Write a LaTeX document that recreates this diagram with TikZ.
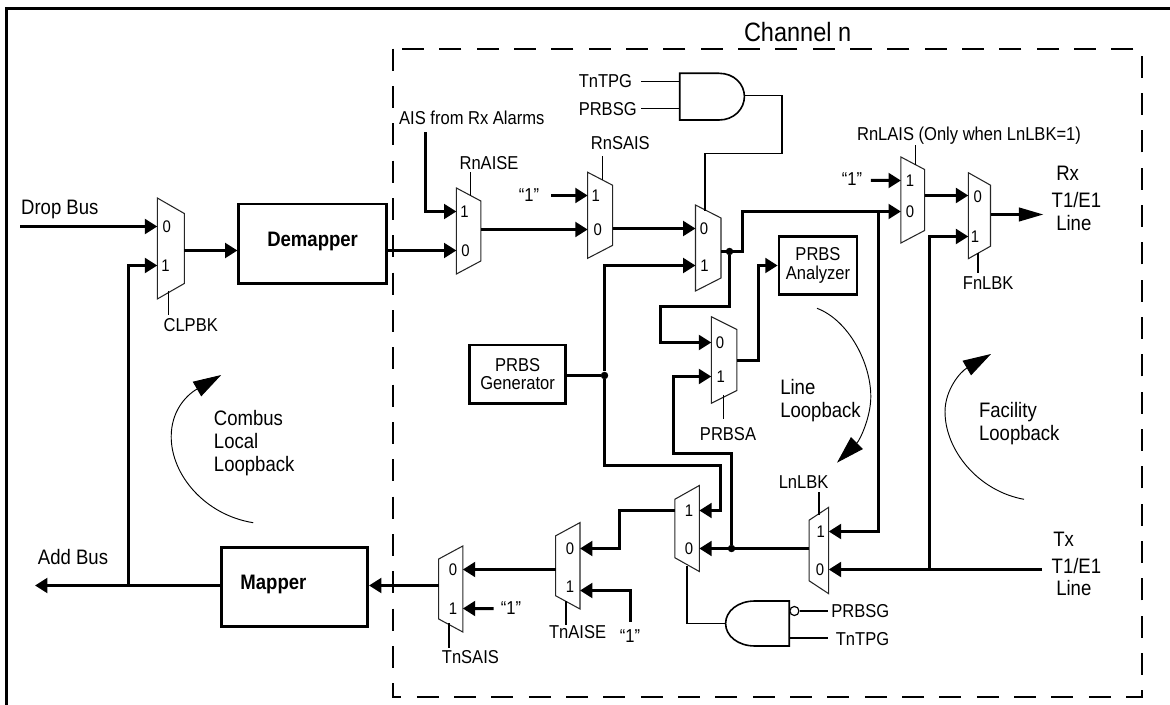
\documentclass[tikz,border=0pt]{standalone}
\usepackage{fontspec}
\setmainfont{Liberation Sans}[FakeStretch=0.886]
\usetikzlibrary{arrows.meta,positioning,calc}
\definecolor{ink}{RGB}{0,0,0}
\tikzset{
  box/.style={draw=ink,line width=2.1pt,inner sep=0pt,align=center},
  lbl/.style={inner sep=0pt,font=\fontsize{14}{13.8}\selectfont,text=ink,align=center},
  big/.style={inner sep=0pt,font=\fontsize{15.7}{17.3}\selectfont,text=ink,align=left},
  heavy/.style={font=\fontsize{15.7}{17}\selectfont\bfseries},
  digit/.style={inner sep=0pt,font=\fontsize{12.6}{13}\selectfont,text=ink},
  wire/.style={line width=2.25pt,draw=ink},
  arr/.style={wire,-{Triangle[length=9.3pt,width=11pt]}},
  thin wire/.style={line width=1.2pt,draw=ink},
  tick/.style={line width=1.1pt,draw=ink},
  swing/.style={line width=.7pt,draw=ink,-{Triangle[length=21pt,width=12.5pt]}},
  dot/.style={circle,fill=ink,inner sep=0pt,minimum size=5.6pt},
}
\newcommand{\muxgate}[6]{%
  \draw[line width=.8pt,draw=ink!85] (#2,{#4-#5}) -- (#3,{#4-#6}) -- (#3,{#4+#6}) -- (#2,{#4+#5}) -- cycle;
  \coordinate (#1i) at (#2,#4);
  \coordinate (#1o) at (#3,#4);
}

\begin{document}
\begin{tikzpicture}[x=.75pt,y=-.75pt]
  \path[use as bounding box] (0,0) rectangle (1170,705);
  \draw[line width=2.2pt,draw=ink] (6.8,705) -- (6.8,8.3) -- (1170,8.3);
  \draw[line width=1.3pt,draw=ink,dash pattern=on 16.5pt off 11.5pt] (392.8,48.7) rectangle (1141.7,696.7);
  \node[inner sep=0pt,font=\fontsize{19.9}{22}\selectfont] (chan) at (797.6,32) {Channel n};

  \muxgate{mClp}{157.3}{184.3}{248.5}{50.5}{35}
  \muxgate{mAise}{456.4}{480.8}{231}{43}{30}
  \muxgate{mSais}{587.7}{612.7}{215.3}{43}{30}
  \muxgate{mTest}{695.5}{721}{248}{43}{30}
  \muxgate{mLais}{900.9}{924.6}{200}{43}{30.5}
  \muxgate{mFlb}{968.3}{990.5}{215.7}{43}{30.5}
  \muxgate{mAna}{711.3}{736.9}{360}{43.3}{30.5}
  \muxgate{mLlb}{828.7}{809.1}{550.5}{43.2}{30.3}
  \muxgate{mIns}{699.3}{674.8}{528.5}{43}{29.2}
  \muxgate{mTais}{580}{555.7}{565.8}{43.2}{30}
  \muxgate{mTsais}{462.8}{438.7}{589}{43}{30}

  \node[digit] (mClp0) at (166.7,226.5) {0};
  \node[digit] (mClp1) at (165.5,265.5) {1};
  \node[digit] (mAise1) at (464.6,211.5) {1};
  \node[digit] (mAise0) at (465.4,250.5) {0};
  \node[digit] (mSais1) at (595.8,195.5) {1};
  \node[digit] (mSais0) at (597.7,229.5) {0};
  \node[digit] (mTest0) at (704,228.5) {0};
  \node[digit] (mTest1) at (704.5,265.5) {1};
  \node[digit] (mLais1) at (910,180.5) {1};
  \node[digit] (mLais0) at (910,211.5) {0};
  \node[digit] (mFlb0) at (977.7,196.5) {0};
  \node[digit] (mFlb1) at (975,236.5) {1};
  \node[digit] (mAna0) at (720,342.5) {0};
  \node[digit] (mAna1) at (720.7,376.5) {1};
  \node[digit] (mLlb1) at (820.8,531.5) {1};
  \node[digit] (mLlb0) at (820,569.5) {0};
  \node[digit] (mIns1) at (689,510.5) {1};
  \node[digit] (mIns0) at (689,548.5) {0};
  \node[digit] (mTais0) at (570,548.5) {0};
  \node[digit] (mTais1) at (570,586.5) {1};
  \node[digit] (mTsais0) at (453,569.5) {0};
  \node[digit] (mTsais1) at (453,608.5) {1};

  \node[box,heavy,text depth=6.5pt,minimum width=110.6pt,minimum height=59.8pt] (demap) at (312.6,243.8) {Demapper};
  \node[box,minimum width=109.8pt,minimum height=59.6pt] (map) at (294.4,587) {};
  \node[inner sep=0pt,heavy] (mapT) at (273.4,584) {Mapper};
  \node[box,lbl,minimum width=72.2pt,minimum height=44pt] (gen) at (517.6,374.3) {PRBS\\Generator};
  \node[box,lbl,minimum width=58.4pt,minimum height=44pt] (ana) at (818,265.5) {PRBS\\Analyzer};

  \node[dot] (jA) at (604.5,375.5) {};
  \node[dot] (jB) at (729.5,251.5) {};
  \node[dot] (jC) at (731.5,548.5) {};

  \node[big] (drop) at (59.8,209) {Drop Bus};
  \node[big] (addb) at (73,556.7) {Add Bus};
  \node[lbl] (ais) at (471.8,118) {AIS from Rx Alarms};
  \node[lbl] (tpgT) at (605.4,80.7) {TnTPG};
  \node[lbl] (prbsT) at (607.7,109.3) {PRBSG};
  \node[lbl] (rnaise) at (489,163.3) {RnAISE};
  \node[lbl] (rnsais) at (620.3,143.3) {RnSAIS};
  \node[lbl] (rnlais) at (969,135.7) {RnLAIS (Only when LnLBK=1)};
  \node[lbl] (fnlbk) at (988.2,283.3) {FnLBK};
  \node[lbl] (clpbk) at (190.7,325) {CLPBK};
  \node[lbl] (prbsa) at (728,433.7) {PRBSA};
  \node[lbl] (lnlbk) at (803.6,482.3) {LnLBK};
  \node[lbl] (tnaise) at (577.6,632.3) {TnAISE};
  \node[lbl] (tnsais) at (470.4,657.3) {TnSAIS};
  \node[lbl] (prbsB) at (860.3,611.3) {PRBSG};
  \node[lbl] (tpgB) at (862.5,639.3) {TnTPG};
  \node[lbl] (oneA) at (529,195) {“1”};
  \node[lbl] (oneB) at (852,179.3) {“1”};
  \node[lbl] (oneC) at (630,636) {“1”};
  \node[lbl] (oneD) at (511,608.3) {“1”};
  \node[big,align=center] (rxA) at (1067.6,173.3) {Rx};
  \node[big,align=center] (rxB) at (1076.4,200) {T1/E1};
  \node[big,align=center] (rxC) at (1073.8,222.7) {Line};
  \node[big,align=center] (txA) at (1063.6,539.3) {Tx};
  \node[big,align=center] (txB) at (1076.4,566) {T1/E1};
  \node[big,align=center] (txC) at (1073.8,588.3) {Line};
  \node[big,anchor=west] (combus) at (213.7,442.7) {Combus\\Local\\Loopback};
  \node[big,anchor=west] (lineL) at (780,401) {Line\\Loopback};
  \node[big,anchor=west] (facL) at (978.8,423.7) {Facility\\Loopback};

  \coordinate (dropS) at (20,226.5);
  \coordinate (addE) at (35,585.5);
  \coordinate (addJ) at (128.5,585.5);
  \draw[arr] (dropS) -- (mClpi |- mClp0);
  \draw[wire] (map.west |- addJ) -- (addJ);
  \draw[arr] (addJ) -- (addE);
  \draw[arr] (addJ) |- (mClpi |- mClp1);
  \draw[arr] (mClpo |- mAise0) -- (demap.west |- mAise0);
  \draw[arr] (demap.east |- mAise0) -- (mAisei |- mAise0);
  \coordinate (aisS) at (425.5,132.3);
  \draw[arr] (aisS) |- (mAisei |- mAise1);
  \draw[arr] (mAiseo |- mSais0) -- (mSaisi |- mSais0);
  \draw[arr] (oneA.east) ++(12,.5) -- (mSaisi |- mSais1);
  \draw[arr] (mSaiso |- mTest0) -- (mTesti |- mTest0);
  \draw[wire] (gen.east |- jA) -- (jA);
  \draw[arr] (jA) |- (mTesti |- mTest1);
  \coordinate (genD) at (720.5,465.5);
  \draw[arr] (jA) |- (genD) -- (genD |- mIns1) -- (mInsi |- mIns1);
  \coordinate (outU) at (742.5,211.5);
  \draw[arr] (mTesto |- jB) -- (outU |- jB) -- (outU) -- (mLaisi |- mLais0);
  \coordinate (turnA) at (729.5,306.5);
  \coordinate (turnB) at (660.5,342.5);
  \draw[arr] (jB) -- (turnA) -| (turnB) -- (mAnai |- mAna0);
  \coordinate (anaU) at (758.5,360.5);
  \draw[arr] (mAnao |- anaU) -- (anaU) |- (ana.west);
  \coordinate (lineD) at (878.5,211.5);
  \draw[arr] (lineD) |- (mLlbi |- mLlb1);
  \draw[arr] (mLaiso |- mSais1) -- (mFlbi |- mSais1);
  \draw[arr] (oneB.east) ++(8.4,1.2) -- (mLaisi |- mLais1);
  \coordinate (txS) at (1042,569.5);
  \coordinate (txJ) at (929.5,569.5);
  \draw[arr] (txS) -- (mLlbi |- txS);
  \draw[arr] (txJ) |- (mFlbi |- mFlb1);
  \coordinate (rxE) at (1043.5,214.5);
  \draw[wire,-{Triangle[length=18.4pt,width=10pt]}] (mFlbo |- rxE) -- (rxE);
  \draw[arr] (mLlbo |- jC) -- (mInsi |- jC);
  \coordinate (loopU) at (731.5,453.5);
  \coordinate (loopV) at (673.5,376.5);
  \draw[arr] (jC) -- (loopU) -| (loopV) -- (mAnai |- loopV);
  \coordinate (insL) at (619.5,510.5);
  \draw[arr] (mInso |- insL) -- (insL) |- (mTaisi |- mTais0);
  \coordinate (oneCt) at (630.5,621.7);
  \coordinate (oneCu) at (630.5,590.5);
  \draw[arr] (oneCt) -- (oneCu) -- (mTaisi |- oneCu);
  \draw[arr] (mTaiso |- mTsais0) -- (mTsaisi |- mTsais0);
  \draw[arr] (oneD.west) ++(-7,.2) -- (mTsaisi |- mTsais1);
  \draw[arr] (mTsaiso |- addJ) -- (map.east |- addJ);

  \draw[tick] (168.5,291) -- ++(0,24);
  \draw[tick] (470.6,196) -- ++(0,-23.7);
  \draw[tick] (602.6,180) -- ++(0,-24);
  \draw[tick] (915.6,165) -- ++(0,-19.7);
  \draw[tick] (978,253) -- ++(0,20);
  \draw[tick] (723.7,395) -- ++(0,24.3);
  \draw[tick] (818.9,515) -- ++(0,-23.3);
  \draw[tick] (565.8,601) -- ++(0,24);
  \draw[tick] (448.8,623) -- ++(0,25.3);

  \draw[thin wire] (679.7,73.3) -- (719,73.3) .. controls (734,73.3) and (744.4,84) .. (744.4,96.5)
    .. controls (744.4,109) and (734,120) .. (719,120) -- (679.7,120) -- cycle;
  \coordinate (andTo) at (744.4,95.7);
  \draw[thin wire] (andTo) -- (781.7,95.7) -- (781.7,153.7) -- (704.9,153.7) -- (704.9,210.7);
  \draw[thin wire] (641,81.7) -- (679.7,81.7);
  \draw[thin wire] (641,108.7) -- (679.7,108.7);

  \draw[thin wire] (789.2,601) -- (755,601) .. controls (738,601) and (725.6,611) .. (725.6,623.5)
    .. controls (725.6,636) and (738,646) .. (755,646) -- (789.2,646) -- cycle;
  \node[circle,draw=ink,line width=.9pt,fill=white,inner sep=0pt,minimum size=6.8pt] (bub) at (794.4,611) {};
  \draw[thin wire] (bub.east) -- (827.6,611);
  \draw[thin wire] (789.2,637.7) -- (827.6,637.7);
  \draw[thin wire] (687.2,565.7) |- (725.6,623.3);

  \draw[swing] (253.2,522.7) .. controls (205,515) and (171.2,475) .. (171.2,436.7)
    .. controls (171.2,412) and (185,396) .. (221.2,375);
  \draw[swing] (817,308.3) .. controls (848,320) and (870.8,362) .. (870.8,396.7)
    .. controls (870.8,417) and (860,440) .. (837,462.7);
  \draw[swing] (1024,499.3) .. controls (978,491) and (945,450) .. (945,411.7)
    .. controls (945,390) and (960,372) .. (991,354);
\end{tikzpicture}
\end{document}
